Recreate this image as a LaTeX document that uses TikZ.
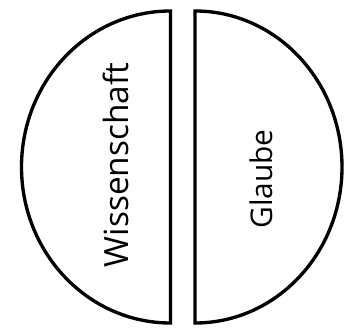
\documentclass[tikz,border=0pt]{standalone}
\usepackage{fontspec}
\setmainfont{Open Sans}
\usepackage{tikz}

\begin{document}
\begin{tikzpicture}[
        x=0.02cm, y=-0.02cm,
        half/.style={draw, line width=1.9pt, line join=miter},
        lbl/.style={rotate=90, anchor=base, inner sep=0pt}
      ]
        \useasboundingbox (0,0) rectangle (350,327);
        % left half
        \draw[half] (170.5,11) -- (170.5,323)
           arc[start angle=90, end angle=270, x radius=149, y radius=156] -- cycle;
        % right half
        \draw[half] (195,11) -- (195,323)
           arc[start angle=90, end angle=-90, x radius=147, y radius=156] -- cycle;
        \node[lbl, font=\fontsize{19}{22}\selectfont] (wiss) at (128,165) {Wissenschaft};
        \node[lbl, font=\fontsize{17}{20}\selectfont] (glaube) at (272,179) {Glaube};
      \end{tikzpicture}
\end{document}
